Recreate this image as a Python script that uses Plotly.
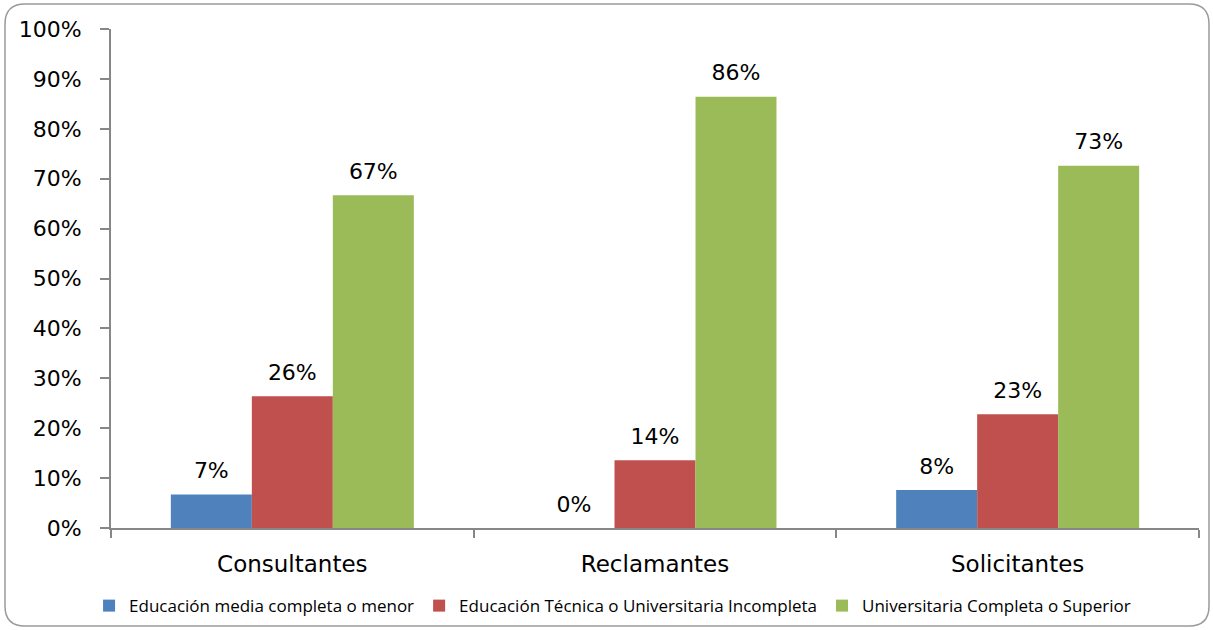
import plotly.graph_objects as go

categories = ["Consultantes", "Reclamantes", "Solicitantes"]
series_names = [
    "Educación media completa o menor",
    "Educación Técnica o Universitaria Incompleta",
    "Universitaria Completa o Superior",
]
media = [0.067, 0.0, 0.076]
tecnica = [0.264, 0.136, 0.228]
universitaria = [0.667, 0.864, 0.726]
y_tick_vals = [0, 0.1, 0.2, 0.3, 0.4, 0.5, 0.6, 0.7, 0.8, 0.9, 1.0]
y_tick_text = ["0%", "10%", "20%", "30%", "40%", "50%", "60%", "70%", "80%", "90%", "100%"]

colors = ["#4F81BD", "#C0504D", "#9BBB59"]

W, H = 1213, 630
ML, MR, MT, MB = 111, 14, 29, 102

fig = go.Figure()
for i, (name, vals, col) in enumerate(zip(series_names, [media, tecnica, universitaria], colors)):
    fig.add_trace(go.Bar(
        name=name, x=categories, y=vals,
        marker=dict(color=col, line=dict(width=0)),
        offsetgroup=str(i),
    ))
# data labels: text-only scatter points grouped like the bars
for i, vals in enumerate([media, tecnica, universitaria]):
    fig.add_trace(go.Scatter(
        x=categories, y=vals, mode="markers+text",
        text=[f"{int(v * 100 + 0.5)}%" for v in vals],
        textposition="top center",
        textfont=dict(family="DejaVu Sans", size=22, color="#000000"),
        marker=dict(size=16, opacity=0),
        offsetgroup=str(i), showlegend=False, hoverinfo="skip",
        cliponaxis=False,
    ))

# rounded border around the chart (pixel geometry converted to paper coords)
pw = W - ML - MR
ph = H - MT - MB
def px(x):
    return (x - ML) / pw
def py(y):
    return (H - MB - y) / ph
L, R, T, B, r = 5, 1209, 4, 626, 20
path = (
    f"M {px(L + r)},{py(T)} L {px(R - r)},{py(T)} Q {px(R)},{py(T)} {px(R)},{py(T + r)} "
    f"L {px(R)},{py(B - r)} Q {px(R)},{py(B)} {px(R - r)},{py(B)} "
    f"L {px(L + r)},{py(B)} Q {px(L)},{py(B)} {px(L)},{py(B - r)} "
    f"L {px(L)},{py(T + r)} Q {px(L)},{py(T)} {px(L + r)},{py(T)} Z"
)

fig.update_layout(
    width=W, height=H,
    margin=dict(l=ML, r=MR, t=MT, b=MB),
    paper_bgcolor="white", plot_bgcolor="white",
    barmode="group", bargap=0.33, bargroupgap=0,
    scattermode="group", scattergap=0.33,
    font=dict(family="DejaVu Sans", color="#000000"),
    showlegend=True,
    legend=dict(
        orientation="h", xref="container", yref="container",
        x=0.505, xanchor="center", y=0.038, yanchor="middle",
        font=dict(family="Open Sans", size=17, color="#000000"),
        itemwidth=30, tracegroupgap=0,
    ),
    shapes=[dict(type="path", path=path, xref="paper", yref="paper",
                 line=dict(color="#9a9a9a", width=1.5), layer="below")],
)
fig.update_xaxes(
    showline=True, linecolor="#878787", linewidth=2,
    ticks="outside", tickson="boundaries", ticklen=8, tickcolor="#878787", tickwidth=1.5,
    tickfont=dict(family="DejaVu Sans", size=23, color="#000000"),
    ticklabelstandoff=14, showgrid=False,
)
fig.update_yaxes(
    range=[0, 1], tickvals=y_tick_vals, ticktext=y_tick_text,
    showline=True, linecolor="#878787", linewidth=2,
    ticks="outside", ticklen=9, tickcolor="#878787", tickwidth=1.5,
    tickfont=dict(family="DejaVu Sans", size=22, color="#000000"),
    ticklabelstandoff=14, showgrid=False, zeroline=False,
)

fig.write_html("out.html", config={"displayModeBar": False},
               post_script="document.body.style.margin='0';")
